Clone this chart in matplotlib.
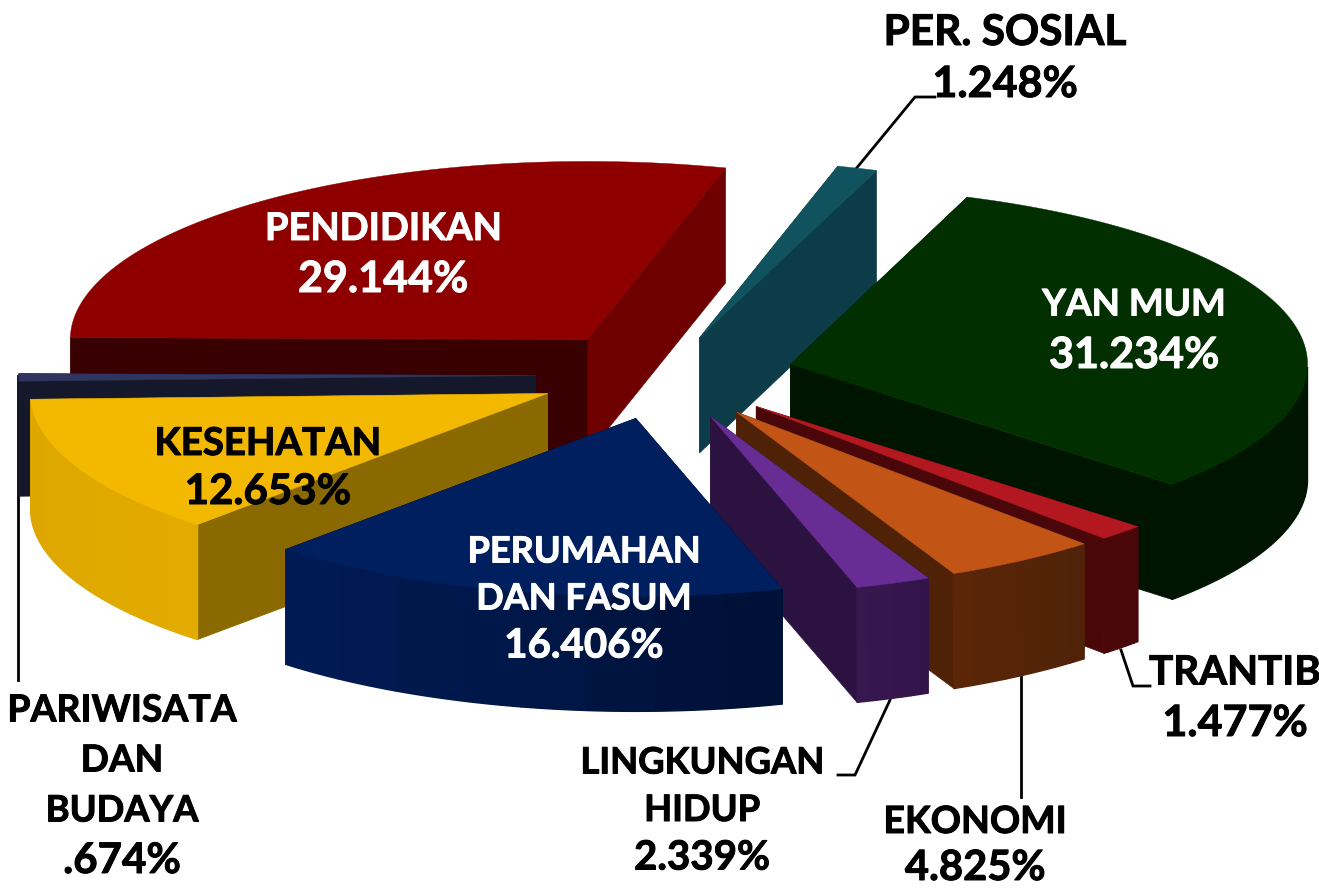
import numpy as np
import matplotlib
matplotlib.use('Agg')
from matplotlib import pyplot as plt
from matplotlib import patheffects as pe
from matplotlib.colors import to_rgb

plt.rcParams['font.family'] = ['Lato', 'DejaVu Sans']

names = ['PER. SOSIAL', 'YAN MUM', 'TRANTIB', 'EKONOMI', 'LINGKUNGAN HIDUP',
         'PERUMAHAN DAN FASUM', 'KESEHATAN', 'PARIWISATA DAN BUDAYA', 'PENDIDIKAN']
values = [1.248, 31.234, 1.477, 4.825, 2.339, 16.406, 12.653, 0.674, 29.144]
value_text = ['1.248%', '31.234%', '1.477%', '4.825%', '2.339%',
              '16.406%', '12.653%', '.674%', '29.144%']

top_colors = ['#10535f', '#012f00', '#b3171f', '#c25416', '#682d94',
              '#001f5e', '#f3b800', '#2f3560', '#8e0000']
wall_left = ['#0c3c48', '#001500', '#4a0709', '#5c2608', '#38174f',
             '#001c56', '#dea700', '#15182a', '#3a0000']
wall_right = ['#0c3c48', '#001500', '#4a0709', '#4f2208', '#32144a',
              '#001035', '#e4ac00', '#15182a', '#3a0000']
cut_start = ['#0c3c48', '#001500', '#4a0709', '#4f2208', '#2c1240',
             '#001035', '#8a6a00', '#15182a', '#380000']
cut_end = ['#0c3c48', '#001500', '#4a0709', '#4f2208', '#2c1240',
           '#001035', '#8a6a00', '#15182a', '#6e0000']
explode = [0.22, 0.25, 0.25, 0.25, 0.25, 0.25, 0.25, 0.25, 0.25]

# back to front
draw_order = [8, 7, 6, 0, 1, 2, 3, 4, 5]

CX, CY = 665, 375
RX, RY = 517, 178
DEPTH = 115
START = 74.5

# lines of text, font size per line, first line centre, pitch, colour
labels = [
    (['PER. SOSIAL', value_text[0]], [30.5, 31], 1005, 33, 51, 'black'),
    (['YAN MUM', value_text[1]], [26.5, 31], 1134, 305, 50, 'white'),
    (['TRANTIB', value_text[2]], [29, 31], 1235, 673, 50, 'black'),
    (['EKONOMI', value_text[3]], [27, 30], 975, 822, 46, 'black'),
    (['LINGKUNGAN', 'HIDUP', value_text[4]], [26.2, 26.2, 29], 702, 763, 47.5, 'black'),
    (['PERUMAHAN', 'DAN FASUM', value_text[5]], [26, 26, 29], 584, 552, 47, 'white'),
    (['KESEHATAN', value_text[6]], [27.6, 30.3], 268, 444, 48, 'black'),
    (['PARIWISATA', 'DAN', 'BUDAYA', value_text[7]], [26.9, 26.7, 26.2, 30.3], 122, 711, 50, 'black'),
    (['PENDIDIKAN', value_text[8]], [27.4, 31], 383, 229, 50, 'white'),
]

leaders = [
    ([855, 915, 935], [170, 97, 97]),
    ([18, 18], [376, 680]),
    ([890, 855, 838], [700, 775, 775]),
    ([1021, 1021], [677, 797]),
    ([1121, 1133, 1150], [650, 686, 686]),
]


def point(cx, cy, deg):
    a = np.radians(deg)
    return cx + RX*np.cos(a), cy - RY*np.sin(a)


def draw_slice(ax, i, a0, a1):
    # a0 > a1, clockwise
    mid = np.radians((a0 + a1)/2)
    tx = CX + explode[i]*RX*np.cos(mid)
    ty = CY - explode[i]*RY*np.sin(mid)
    arc = np.linspace(a0, a1, 120)
    ax_, ay_ = point(tx, ty, arc)

    # the cut nearer the viewer goes last
    cuts = [(a0, cut_start[i]), (a1, cut_end[i])]
    cuts.sort(key=lambda c: -np.sin(np.radians(c[0])))
    for ang, col in cuts:
        ex, ey = point(tx, ty, ang)
        ax.fill([tx, ex, ex, tx], [ty, ey, ey + DEPTH, ty + DEPTH],
                color=col, lw=0.5, zorder=1)

    # outer wall, only the part facing the viewer, split in bands for the shading
    front = np.sin(np.radians(arc)) < 0
    if front.sum() > 1:
        wx, wy = ax_[front], ay_[front]
        c_left, c_right = np.array(to_rgb(wall_left[i])), np.array(to_rgb(wall_right[i]))
        span = max(wx.max() - wx.min(), 1)
        bands = np.linspace(0, len(wx) - 1, 9).astype(int)
        for k0, k1 in zip(bands[:-1], bands[1:]):
            f = ((wx[k0] + wx[k1])/2 - wx.min())/span
            xs = np.r_[wx[k0:k1+1], wx[k0:k1+1][::-1]]
            ys = np.r_[wy[k0:k1+1], wy[k0:k1+1][::-1] + DEPTH]
            ax.fill(xs, ys, color=c_left*(1 - f) + c_right*f, lw=1.0, zorder=1)

    ax.fill(np.r_[tx, ax_], np.r_[ty, ay_], color=top_colors[i], lw=0.3, zorder=1)


fig = plt.figure(figsize=(13.19, 8.88), dpi=100)
ax = fig.add_axes([0, 0, 1, 1])
ax.set_xlim(0, 1319)
ax.set_ylim(888, 0)
ax.axis('off')

sweep = np.array(values)/sum(values)*360
starts = START - np.r_[0, np.cumsum(sweep)[:-1]]
ends = starts - sweep

for i in draw_order:
    draw_slice(ax, i, starts[i], ends[i])

for xs, ys in leaders:
    ax.plot(xs, ys, color='black', lw=2, zorder=0, solid_joinstyle='miter')

for lines, sizes, x, y, pitch, col in labels:
    for n, line in enumerate(lines):
        t = ax.text(x, y + n*pitch, line, color=col, fontsize=sizes[n], fontweight='bold',
                    ha='center', va='center', zorder=3)
        t.set_path_effects([pe.withStroke(linewidth=0.7, foreground=col)])

fig.savefig('out.png', dpi=100)
